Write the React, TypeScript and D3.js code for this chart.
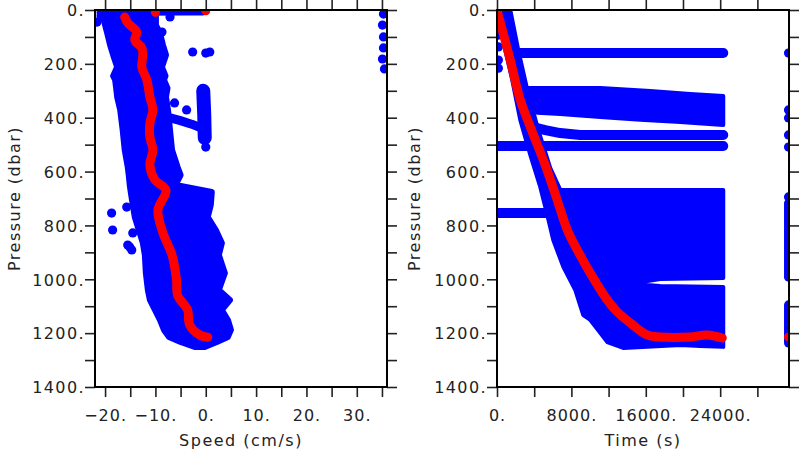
import { useEffect, useRef } from 'react';
import * as d3 from 'd3';

// shared pressure axis (dbar)
const pressureTicks = [0, 100, 200, 300, 400, 500, 600, 700, 800, 900, 1000, 1100, 1200, 1300, 1400];
const pressureLabels = [0, 200, 400, 600, 800, 1000, 1200, 1400];

// left panel: speed (cm/s)
const speedTicks = [-20, -15, -10, -5, 0, 5, 10, 15, 20, 25, 30, 35];
const speedLabels = [-20, -10, 0, 10, 20, 30];

// envelope of the dense blue cloud of speed samples
const cloudP = [26, 56, 85, 130, 167, 212, 245, 260, 290, 323, 371, 446, 520, 583, 613, 650, 676, 724, 769, 817, 865, 910, 977, 1040, 1077, 1114, 1151, 1188, 1214, 1233, 1251];
const cloudLo = [-20.4, -20.0, -19.6, -19.0, -18.4, -17.6, -18.4, -18.0, -17.8, -17.6, -17.0, -16.5, -16.1, -15.5, -15.3, -15.1, -14.9, -14.5, -14.1, -13.3, -12.5, -12.1, -11.9, -11.5, -11.1, -10.1, -9.1, -8.3, -7.3, -5.0, -2.2];
const cloudHi = [-9.9, -9.9, -9.1, -8.5, -7.9, -8.7, -8.0, -8.3, -7.6, -7.9, -7.5, -7.1, -6.7, -5.6, -5.0, -6.0, 1.2, 1.0, 0.4, 2.0, 3.2, 2.6, 3.8, 2.6, 4.8, 3.2, 4.4, 5.0, 4.4, 2.2, -0.2];
const surfaceSpeed = [-21, -12, -5, -0.6];
const surfaceP = [9, 8, 7, 7];
// streaks of samples outside the main cloud, [speed, pressure]
const speedStreaks: [number, number][][] = [
  [[-0.5, 300], [-0.3, 390], [-0.2, 475]],
  [[-7.6, 398], [-5.2, 410], [-2.8, 424], [-0.6, 440]],
];
const speedOutliers: [number, number][] = [
  [-21.6, 45], [-20.8, 22], [-7.1, 26], [-8.7, 82], [-6.2, 345], [-3.8, 371],
  [0, 509], [-2.6, 156], [0, 160], [0.8, 156],
  [35.3, 15], [35.1, 56], [35.3, 100], [35.3, 141], [35.1, 182], [35.5, 219],
  [-18.7, 754], [-18.5, 817], [-15.7, 732], [-15.1, 880], [-14.5, 828], [-15.5, 873], [-14.7, 891],
];
const meanSpeed = [-16.1, -15.5, -13.7, -14.1, -12.7, -12.5, -12.7, -11.7, -11.1, -10.5, -11.1, -11.1, -10.5, -11.1, -10.1, -7.9, -9.5, -8.5, -6.7, -5.8, -5.6, -3.6, -3.2, -1.2, 0.4];
const meanSpeedP = [26, 48, 82, 111, 141, 167, 212, 260, 323, 371, 420, 472, 520, 576, 631, 669, 743, 828, 910, 1003, 1059, 1114, 1170, 1207, 1215];
const meanSurface: [number, number][] = [[-10, 9], [0, 3]];

// right panel: time (s)
const timeTicks = [0, 4000, 8000, 12000, 16000, 20000, 24000, 28000];
const timeLabels = [0, 8000, 16000, 24000];

// descent band + deep block outline, [time, pressure]
const blockOutline: [number, number][] = [
  [0, 0], [890, 149], [1640, 260], [2500, 408], [3580, 538], [4650, 657], [5410, 761],
  [6050, 854], [7130, 954], [8420, 1040], [9280, 1133], [10030, 1151], [11100, 1199],
  [11860, 1233], [13580, 1255], [16160, 1251], [19710, 1244], [21860, 1248], [24330, 1251],
  [24330, 1029], [17560, 1025], [14330, 1017], [17560, 999], [24330, 995],
  [24330, 668], [11100, 668], [6800, 668],
  [5730, 587], [4440, 446], [3260, 297], [2290, 149], [1430, 0],
];
const parkBand: [number, number][] = [
  [3260, 290], [11100, 290], [16480, 301], [20780, 312], [24330, 319],
  [24330, 427], [19710, 416], [15410, 408], [11100, 397], [6800, 386], [4330, 382],
];
const parkLines: [number, number][][] = [
  [[2180, 160], [24330, 160]],
  [[4220, 438], [5190, 446], [6800, 457], [8950, 464], [24330, 464]],
  [[0, 505], [24330, 505]],
  [[0, 754], [6370, 754]],
];
const edgeDotsP = [93, 137, 186, 216];
const lateTime = 31350;
const lateDotsP = [160, 371, 401, 464, 509, 694];
const lateStrips: [number, number][] = [[717, 992], [1095, 1237]];
const meanTime = [0, 140, 1430, 2500, 3580, 5190, 6480, 7560, 8630, 10030, 11860, 12930, 14330, 16160, 17560, 20780, 22610, 24220];
const meanTimeP = [0, 19, 186, 334, 434, 576, 706, 817, 891, 977, 1077, 1121, 1162, 1207, 1214, 1214, 1207, 1218];
const meanLate: [number, number] = [lateTime, 1214];

const BLUE = '#0000ff';
const RED = '#ff0000';
const FONT = "'DejaVu Sans', sans-serif";

const fmt = (v: number) => (v < 0 ? '\u2212' : '') + Math.abs(v) + '.';

export default function App() {
  const svgRef = useRef<SVGSVGElement>(null);

  useEffect(() => {
    if (!svgRef.current) return;
    const svg = d3.select(svgRef.current);
    svg.selectAll('*').remove();

    const y = d3.scaleLinear().domain([0, 1400]).range([10, 387]);
    const xSpeed = d3.scaleLinear().domain([-22, 36]).range([95, 387]);
    const xTime = d3.scaleLinear().domain([0, 31400]).range([497, 789]);

    const defs = svg.append('defs');
    const addClip = (id: string, x: d3.ScaleLinear<number, number>) => {
      const [x0, x1] = x.range();
      defs.append('clipPath').attr('id', id)
        .append('rect').attr('x', x0).attr('y', 10).attr('width', x1 - x0).attr('height', 377);
    };
    addClip('clipL', xSpeed);
    addClip('clipR', xTime);

    // ---- left panel marks
    const gl = svg.append('g').attr('clip-path', 'url(#clipL)');
    const cloudArea = d3.area<number>()
      .y(i => y(cloudP[i]))
      .x0(i => xSpeed(cloudLo[i]))
      .x1(i => xSpeed(cloudHi[i]));
    gl.append('path')
      .attr('d', cloudArea(d3.range(cloudP.length)))
      .attr('fill', BLUE).attr('stroke', BLUE).attr('stroke-width', 6).attr('stroke-linejoin', 'round');
    gl.append('path')
      .attr('d', d3.line<number>().x(i => xSpeed(surfaceSpeed[i])).y(i => y(surfaceP[i]))(d3.range(surfaceSpeed.length)))
      .attr('fill', 'none').attr('stroke', BLUE).attr('stroke-width', 7).attr('stroke-linecap', 'round');
    const speedLine = d3.line<[number, number]>().x(d => xSpeed(d[0])).y(d => y(d[1]));
    speedStreaks.forEach((s, i) => {
      gl.append('path').attr('d', speedLine(s))
        .attr('fill', 'none').attr('stroke', BLUE).attr('stroke-width', i === 0 ? 14 : 9)
        .attr('stroke-linecap', 'round').attr('stroke-linejoin', 'round');
    });
    gl.selectAll('circle.out').data(speedOutliers).enter().append('circle')
      .attr('cx', d => xSpeed(d[0])).attr('cy', d => y(d[1])).attr('r', 4.6).attr('fill', BLUE);
    gl.append('path')
      .attr('d', d3.line<number>().x(i => xSpeed(meanSpeed[i])).y(i => y(meanSpeedP[i])).curve(d3.curveCatmullRom)(d3.range(meanSpeed.length)))
      .attr('fill', 'none').attr('stroke', RED).attr('stroke-width', 9)
      .attr('stroke-linecap', 'round').attr('stroke-linejoin', 'round');
    gl.selectAll('circle.red').data(meanSurface).enter().append('circle')
      .attr('cx', d => xSpeed(d[0])).attr('cy', d => y(d[1])).attr('r', 4.5).attr('fill', RED);

    // ---- right panel marks
    const gr = svg.append('g').attr('clip-path', 'url(#clipR)');
    const poly = d3.line<[number, number]>().x(d => xTime(d[0])).y(d => y(d[1]));
    gr.append('path').attr('d', poly(blockOutline) + 'Z')
      .attr('fill', BLUE).attr('stroke', BLUE).attr('stroke-width', 4).attr('stroke-linejoin', 'round');
    gr.append('path').attr('d', poly(parkBand) + 'Z')
      .attr('fill', BLUE).attr('stroke', BLUE).attr('stroke-width', 4).attr('stroke-linejoin', 'round');
    parkLines.forEach(l => {
      gr.append('path').attr('d', poly(l))
        .attr('fill', 'none').attr('stroke', BLUE).attr('stroke-width', 10)
        .attr('stroke-linecap', 'round').attr('stroke-linejoin', 'round');
    });
    gr.selectAll('circle.edge').data(edgeDotsP).enter().append('circle')
      .attr('cx', xTime(150)).attr('cy', d => y(d)).attr('r', 4.6).attr('fill', BLUE);
    gr.selectAll('circle.late').data(lateDotsP).enter().append('circle')
      .attr('cx', xTime(lateTime)).attr('cy', d => y(d)).attr('r', 4.6).attr('fill', BLUE);
    lateStrips.forEach(s => {
      gr.append('line')
        .attr('x1', xTime(lateTime)).attr('x2', xTime(lateTime))
        .attr('y1', y(s[0])).attr('y2', y(s[1]))
        .attr('stroke', BLUE).attr('stroke-width', 9).attr('stroke-linecap', 'round');
    });
    gr.append('path')
      .attr('d', d3.line<number>().x(i => xTime(meanTime[i])).y(i => y(meanTimeP[i])).curve(d3.curveCatmullRom)(d3.range(meanTime.length)))
      .attr('fill', 'none').attr('stroke', RED).attr('stroke-width', 9)
      .attr('stroke-linecap', 'round').attr('stroke-linejoin', 'round');
    gr.append('circle').attr('cx', xTime(meanLate[0])).attr('cy', y(meanLate[1])).attr('r', 4.5).attr('fill', RED);

    // ---- frames, ticks and labels
    const drawFrame = (
      x: d3.ScaleLinear<number, number>,
      xTicks: number[],
      xLabels: number[],
      xTitle: string,
      yTitleX: number,
    ) => {
      const [x0, x1] = x.range();
      const [y0, y1] = y.range();
      const g = svg.append('g');
      const style = (sel: d3.Selection<SVGGElement, unknown, null, undefined>) => {
        sel.select('.domain').remove();
        sel.selectAll('line').attr('stroke', '#222').attr('stroke-width', 1.6);
        sel.attr('font-family', FONT).attr('font-size', 16);
      };

      g.append('g').attr('transform', `translate(0,${y1})`)
        .call(d3.axisBottom(x).tickValues(xTicks).tickSize(10).tickSizeOuter(0)
          .tickFormat(v => (xLabels.includes(+v) ? fmt(+v) : '')))
        .call(style)
        .selectAll('text')
        .attr('y', 34).attr('dy', null).attr('fill', '#222').attr('letter-spacing', 1);

      g.append('g').attr('transform', `translate(0,${y0})`)
        .call(d3.axisTop(x).tickValues(xTicks).tickSize(10).tickSizeOuter(0).tickFormat(() => ''))
        .call(style);

      g.append('g').attr('transform', `translate(${x0},0)`)
        .call(d3.axisLeft(y).tickValues(pressureTicks).tickSize(10).tickSizeOuter(0)
          .tickFormat(v => (pressureLabels.includes(+v) ? fmt(+v) : '')))
        .call(style)
        .selectAll('text')
        .attr('x', -10).attr('dy', '0.36em').attr('fill', '#222').attr('letter-spacing', 1.4);

      g.append('g').attr('transform', `translate(${x1},0)`)
        .call(d3.axisRight(y).tickValues(pressureTicks).tickSize(10).tickSizeOuter(0).tickFormat(() => ''))
        .call(style);

      g.append('rect')
        .attr('x', x0).attr('y', y0).attr('width', x1 - x0).attr('height', y1 - y0)
        .attr('fill', 'none').attr('stroke', '#000').attr('stroke-width', 2);

      g.append('text')
        .attr('x', (x0 + x1) / 2).attr('y', 445.5)
        .attr('text-anchor', 'middle')
        .attr('font-family', FONT).attr('font-size', 16).attr('letter-spacing', 1.5).attr('fill', '#222')
        .text(xTitle);

      g.append('text')
        .attr('transform', `translate(${yTitleX},${(y0 + y1) / 2}) rotate(-90)`)
        .attr('text-anchor', 'middle')
        .attr('font-family', FONT).attr('font-size', 16).attr('letter-spacing', 1.5).attr('fill', '#222')
        .text('Pressure (dbar)');
    };

    drawFrame(xSpeed, speedTicks, speedLabels, 'Speed (cm/s)', 20);
    drawFrame(xTime, timeTicks, timeLabels, 'Time (s)', 420);
  }, []);

  return (
    <svg
      ref={svgRef}
      width={800}
      height={450}
      style={{ position: 'absolute', left: 0, top: 0, background: '#fff' }}
    />
  );
}
